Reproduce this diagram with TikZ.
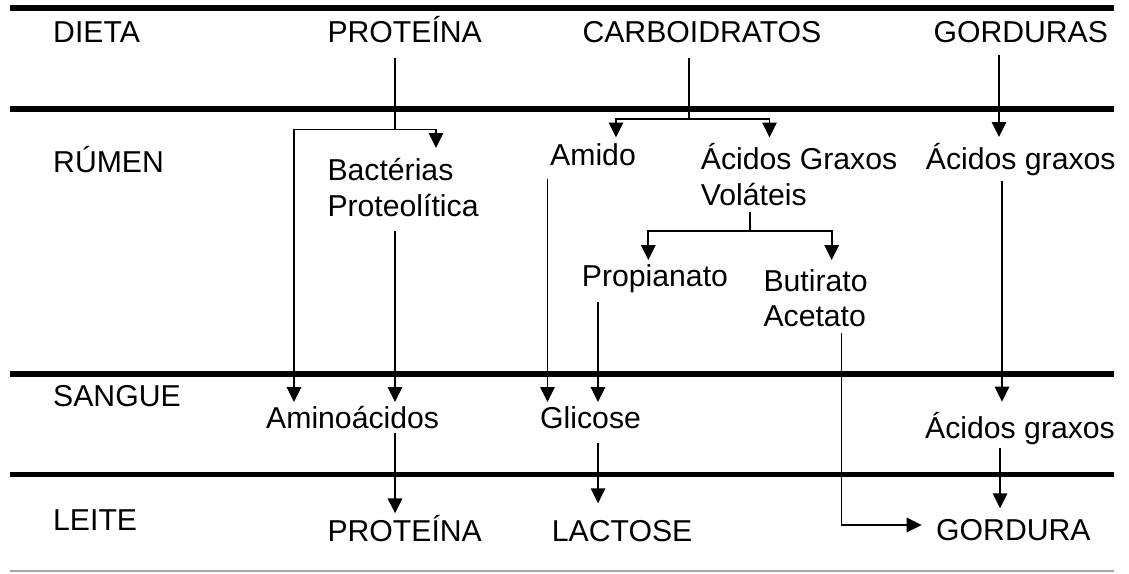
\documentclass[tikz,border=0pt]{standalone}
\usepackage{fontspec}
\setmainfont{Liberation Sans}
\usetikzlibrary{arrows.meta}

\tikzset{
  faixa/.style={line width=5.7pt},
  liga/.style={line width=1.7pt},
  seta/.style={liga, -{Triangle[width=14.5pt,length=15pt]}}
}

\begin{document}
\begin{tikzpicture}[x=1pt, y=-1pt, every node/.style={inner sep=0pt, anchor=base west, align=left, font=\fontsize{30.2}{35.5}\selectfont}]
				\useasboundingbox (0,0) rectangle (1129,573);
				% faixas
				\draw[faixa] (10,8) -- (1114,8);
				\draw[faixa] (10,109) -- (1114,109);
				\draw[faixa] (10,374) -- (1114,374);
				\draw[faixa] (10,474.5) -- (1114,474.5);
				\draw[line width=1.5pt, black!35] (10,571) -- (1114,571);

				\node (dieta) at (53,42.7) {DIETA};
				\node (rumen) at (53,172) {RÚMEN};
				\node (sangue) at (53,406) {SANGUE};
				\node (leite) at (53,530.5) {LEITE};

				\node (proteina) at (327.3,42.7) {PROTEÍNA};
				\node (carbo) at (582.3,42.7) {CARBOIDRATOS};
				\node (gorduras) at (933.3,42.7) {GORDURAS};
				\node (bacterias) at (327.3,216) {Bactérias\\Proteolítica};
				\node (amido) at (550,165) {Amido};
				\node (agv) at (700.7,205) {Ácidos Graxos\\Voláteis};
				\node (agrumen) at (925.7,169.6) {Ácidos graxos};
				\node (propianato) at (581.7,286) {Propianato};
				\node (butirato) at (763.3,326.5) {Butirato\\Acetato};
				\node (aminoacidos) at (266,428.3) {Aminoácidos};
				\node (glicose) at (540,428) {Glicose};
				\node (agsangue) at (925,438.3) {Ácidos graxos};
				\node (proteinaleite) at (327.3,541.7) {PROTEÍNA};
				\node (lactose) at (551.7,541.7) {LACTOSE};
				\node (gordura) at (936,540) {GORDURA};

				% pontos de ramificacao e trilhos
				\coordinate (splitprot) at (395,129.5);
				\coordinate (splitcarb) at (689,119);
				\coordinate (splitagv) at (750,230.7);
				\coordinate (xamino) at (294,0);
				\coordinate (xbact) at (436,0);
				\coordinate (xamido) at (616,0);
				\coordinate (xagv) at (769.5,0);
				\coordinate (xprop) at (648.3,0);
				\coordinate (xbut) at (831.7,0);
				\coordinate (xgord) at (999,0);
				\coordinate (xagr) at (1002,0);
				\coordinate (xags) at (1000,0);
				\coordinate (xamidodown) at (547.5,0);
				\coordinate (xglic) at (598,0);
				\coordinate (xacet) at (841.5,525);

				\draw[liga, shorten <=15.3pt] (splitprot |- proteina.base) -- (splitprot);
				\draw[seta, shorten >=68pt] (splitprot) -| (xbact |- bacterias.base);
				\draw[seta, shorten >=26.3pt] (splitprot) -| (xamino |- aminoacidos.base);
				\draw[liga, shorten <=15.3pt] (splitcarb |- carbo.base) -- (splitcarb);
				\draw[seta, shorten >=27.5pt] (splitcarb) -| (xamido |- amido.base);
				\draw[seta, shorten >=67.5pt] (splitcarb) -| (xagv |- agv.base);
				\draw[seta, shorten <=12.3pt, shorten >=32.6pt] (xgord |- gorduras.base) -- (xgord |- agrumen.base);

				\draw[seta, shorten <=14.4pt, shorten >=26.3pt] (splitprot |- bacterias.south) -- (splitprot |- aminoacidos.base);
				\draw[seta, shorten <=14.3pt, shorten >=26pt] (xamidodown |- amido.base) -- (xamidodown |- glicose.base);
				\draw[liga, shorten <=6.7pt] (splitagv |- agv.south) -- (splitagv);
				\draw[seta, shorten >=26pt] (splitagv) -| (xprop |- propianato.base);
				\draw[seta, shorten >=66.5pt] (splitagv) -| (xbut |- butirato.base);
				\draw[seta, shorten <=11.7pt, shorten >=36.6pt] (xagr |- agrumen.base) -- (xagr |- agsangue.base);
				\draw[seta, shorten <=15.7pt, shorten >=26pt] (xglic |- propianato.base) -- (xglic |- glicose.base);
				\draw[seta, shorten <=5.5pt, shorten >=14.3pt] (xacet |- butirato.south) -- (xacet) -- (xacet -| gordura.west);

				\draw[seta, shorten <=4.4pt, shorten >=28.4pt] (splitprot |- aminoacidos.base) -- (splitprot |- proteinaleite.base);
				\draw[seta, shorten <=15.3pt, shorten >=38.4pt] (xglic |- glicose.base) -- (xglic |- lactose.base);
				\draw[seta, shorten <=9.7pt, shorten >=31.7pt] (xags |- agsangue.base) -- (xags |- gordura.base);
			\end{tikzpicture}
\end{document}
